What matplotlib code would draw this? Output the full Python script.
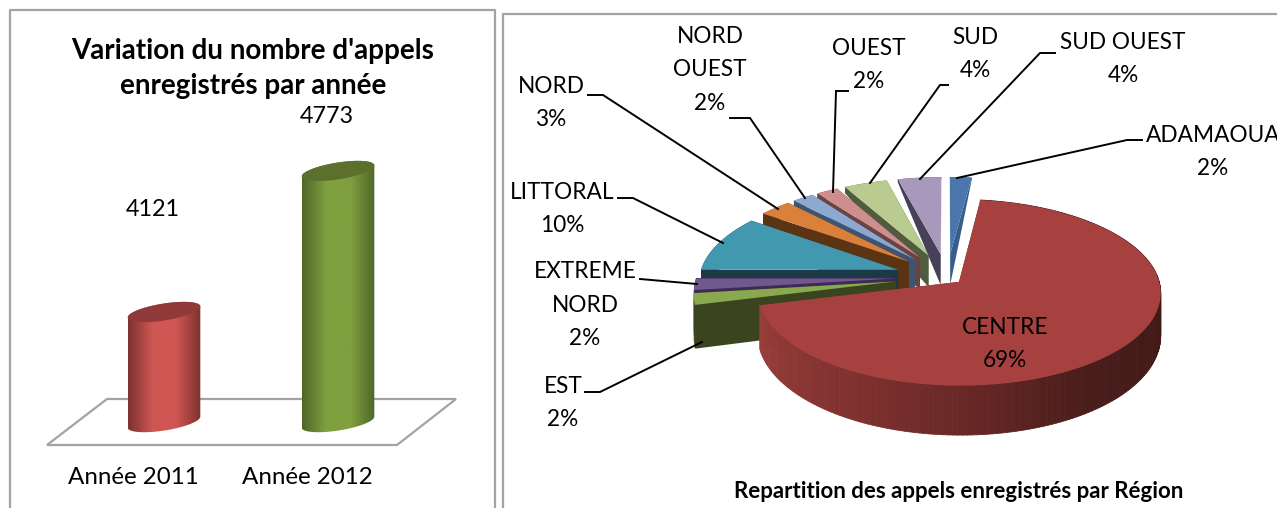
import numpy as np
import matplotlib
matplotlib.use("Agg")
import matplotlib.pyplot as plt
from matplotlib.patches import Polygon
from matplotlib.collections import PolyCollection
from matplotlib.colors import LinearSegmentedColormap

plt.rcParams['font.family'] = ['Lato', 'DejaVu Sans']

# ---- data
years = ["Année 2011", "Année 2012"]
calls = [4121, 4773]
regions = ["ADAMAOUA", "CENTRE", "EST", "EXTREME\nNORD", "LITTORAL", "NORD",
           "NORD\nOUEST", "OUEST", "SUD", "SUD OUEST"]
shares = [2, 69, 2, 2, 10, 3, 2, 2, 4, 4]

# ---- style
bar_edge = ["#7a3230", "#4f6626"]
bar_mid = ["#cf5653", "#80a040"]
bar_top = ["#8f3a38", "#5c702e"]
label_gap = [103, 54]
top_col = ["#4a76ab", "#a6413f", "#8aa84f", "#71588f", "#4298ae", "#d9813a",
           "#8ea9d0", "#cd8e8d", "#b9cb8f", "#a898bc"]
wall_col = ["#385d8a", "#7a2f2d", "#3a451f", "#3d2a55", "#1b3a45", "#5b3413",
            "#3d5474", "#6a4342", "#505c3d", "#46405a"]
explode = [.26, .08, .26, .26, .26, .26, .26, .26, .26, .26]
TXT = 16.3
GREY = "#a3a3a3"

fig = plt.figure(figsize=(12.77, 5.08), dpi=100)

# ---- pixel-space axes for frames, pie
ax = fig.add_axes([0, 0, 1, 1])
ax.set_xlim(0, 1277)
ax.set_ylim(508, 0)
ax.axis("off")

ax.plot([10, 10, 495, 495], [520, 10, 10, 520], color=GREY, lw=1.6, zorder=1)
ax.plot([503, 503, 1290], [520, 14, 14], color=GREY, lw=1.6, zorder=1)

# ---- bar axes: x = category index, y = calls
PX_PER_CAT = 174.0
PX_PER_VAL = 0.2163
X0, Y_REF = 164.0, 312.0
bx = fig.add_axes([0, 0, 1, 1], facecolor="none")
xlim = ((0 - X0) / PX_PER_CAT, (1277 - X0) / PX_PER_CAT)
ylim = (calls[0] + (Y_REF - 508) / PX_PER_VAL, calls[0] + Y_REF / PX_PER_VAL)
bx.axis("off")
BASE = 3612
W = 36.3 / PX_PER_CAT


def ell(cat, val, t, h=8.5, tilt=5.5):
    x = cat + W * np.cos(t)
    y = val + (-h * np.sin(t) + tilt * np.cos(t)) / PX_PER_VAL
    return x, y


floor = np.array([[47, 445], [107, 399], [456, 399], [397, 445]], float)
bx.add_patch(Polygon(np.c_[(floor[:, 0] - X0) / PX_PER_CAT,
                           calls[0] + (Y_REF - floor[:, 1]) / PX_PER_VAL],
                     closed=True, fc="white", ec=GREY, lw=1.6, zorder=2))

for i, v in enumerate(calls):
    tx, ty = ell(i, v, np.linspace(np.pi, 2 * np.pi, 60))
    ox, oy = ell(i, BASE, np.linspace(0, np.pi, 60))
    body = Polygon(np.c_[np.r_[tx, ox], np.r_[ty, oy]], closed=True,
                   transform=bx.transData, fc="none", ec="none")
    bx.add_patch(body)
    cmap = LinearSegmentedColormap.from_list(
        "c", [bar_edge[i], bar_mid[i], bar_mid[i], bar_edge[i]])
    grad = np.linspace(0, 1, 256)[None, :]
    im = bx.imshow(grad, cmap=cmap, aspect="auto", zorder=3,
                   extent=(i - W, i + W, BASE - 40 / PX_PER_VAL, v + 40 / PX_PER_VAL))
    im.set_clip_path(body)
    ex, ey = ell(i, v, np.linspace(0, 2 * np.pi, 120))
    bx.fill(ex, ey, color=bar_top[i], lw=0, zorder=4)
    bx.text(i - 0.063, v + label_gap[i] / PX_PER_VAL, str(v), ha="center", va="center",
            fontsize=16.8, zorder=6)
    bx.text(i - 0.177, BASE - 55.5 / PX_PER_VAL, years[i], ha="center", va="center",
            fontsize=17.4, zorder=6)
bx.set_xlim(*xlim)
bx.set_ylim(*ylim)

ax.text(253, 68.5, "Variation du nombre d'appels\nenregistrés par année", ha="center",
        va="center", fontsize=20, fontweight="bold", linespacing=1.4, zorder=7)

# ---- 3D pie: projection of slices from shares
PX, PY, A, B, K = 947.0, 277.0, 199.0, 90.7, 0.1135
DY = [-1.3, -1.1, -0.2, 0.25, 0.73, 1.3]
DV = [52, 50, 43, 31, 17, 1]


def proj(theta, r, e, mid):
    X = e * np.sin(mid) + r * np.sin(theta)
    Y = e * np.cos(mid) + r * np.cos(theta)
    s = 1 / (1 + K * Y)
    d = np.interp(Y, DY, DV)
    return PX + A * X * s, PY - B * Y * s, d


def wall(theta, e, mid, col, z):
    rr = np.linspace(0, 1, 25)
    x, y, d = proj(np.full_like(rr, theta), rr, e, mid)
    ax.add_patch(Polygon(np.c_[np.r_[x, x[::-1]], np.r_[y, (y + d)[::-1]]], closed=True,
                         fc=col, ec="none", zorder=z))


edges = np.radians(np.r_[0, np.cumsum(shares)] * 3.6)
order = [0, 9, 8, 7, 6, 5, 4, 3, 2, 1]
shade = LinearSegmentedColormap.from_list("w", ["#3d1715", "#4a1d1b", "#7a2f2d", "#9a3e3b"])

for z, i in enumerate(order):
    z0 = 10 + z * 3
    t0, t1 = edges[i], edges[i + 1]
    mid = (t0 + t1) / 2
    e = explode[i]
    wall(t0, e, mid, wall_col[i], z0)
    wall(t1, e, mid, wall_col[i], z0)
    tt = np.linspace(t0, t1, 200)
    ax_, ay_, ad_ = proj(tt, 1.0, e, mid)
    if i == 1:
        polys = [[(ax_[k], ay_[k]), (ax_[k + 1], ay_[k + 1]),
                  (ax_[k + 1], ay_[k + 1] + ad_[k + 1]), (ax_[k], ay_[k] + ad_[k])]
                 for k in range(len(tt) - 1)]
        pos = np.clip((np.degrees(tt[:-1]) - 90) / 165, 0, 1)
        ax.add_collection(PolyCollection(polys, facecolors=shade(pos), edgecolors=shade(pos),
                                         linewidths=.6, zorder=z0 + 1))
    else:
        ax.add_patch(Polygon(np.c_[np.r_[ax_, ax_[::-1]], np.r_[ay_, (ay_ + ad_)[::-1]]],
                             closed=True, fc=wall_col[i], ec="none", zorder=z0 + 1))
    cx, cy, _ = proj(np.array([0.0]), np.array([0.0]), e, mid)
    ax.add_patch(Polygon(np.c_[np.r_[cx, ax_], np.r_[cy, ay_]], closed=True,
                         fc=top_col[i], ec="none", zorder=z0 + 2))

# ---- labels and leader lines
layout = {
    0: ((1213, 152), [(957, 178), (1127, 140), (1142, 140)]),
    1: ((1005, 344), None),
    2: ((563, 403), [(702, 342), (600, 392), (585, 392)]),
    3: ((585, 305), [(697, 284), (640, 279)]),
    4: ((562, 209), [(723, 243), (633, 198), (618, 198)]),
    5: ((551, 103), [(778, 209), (603, 95), (588, 95)]),
    6: ((710, 70), [(805, 198), (750, 118), (730, 118)]),
    7: ((869, 65), [(833, 192), (836, 91), (848, 91)]),
    8: ((975, 54), [(870, 183), (940, 85), (948, 85)]),
    9: ((1123, 59), [(920, 179), (1040, 53), (1055, 53)]),
}
for i, ((lx, ly), pts) in layout.items():
    ax.text(lx, ly, f"{regions[i]}\n{shares[i]}%", ha="center", va="center", fontsize=TXT,
            linespacing=1.72, zorder=60, clip_on=True)
    if pts:
        p = np.array(pts)
        ax.plot(p[:, 0], p[:, 1], color="black", lw=1.4, zorder=59, solid_joinstyle="miter")

ax.text(959, 492, "Repartition des appels enregistrés par Région", ha="center", va="center",
        fontsize=16, fontweight="bold", zorder=60)

fig.savefig("out.png", dpi=100)
